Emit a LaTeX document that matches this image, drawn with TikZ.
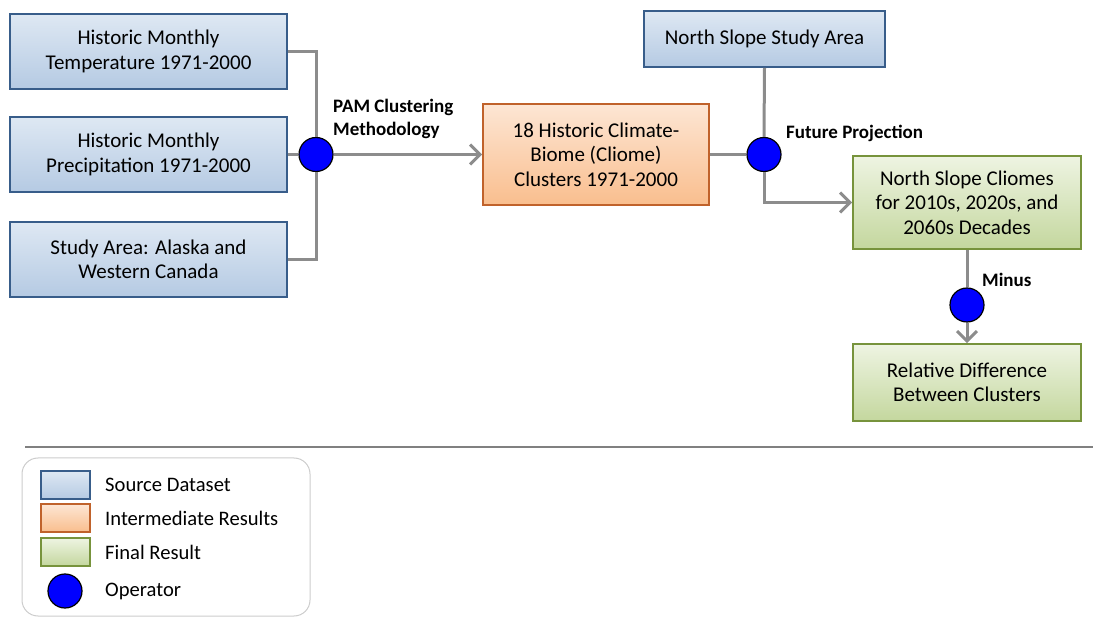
\documentclass[tikz,border=0pt]{standalone}
\usepackage{fontspec}
\setmainfont{Carlito}
\usetikzlibrary{arrows.meta}

\definecolor{srcline}{HTML}{385D8A}
\definecolor{srctop}{HTML}{DEE8F3}
\definecolor{srcbot}{HTML}{B5CAE3}
\definecolor{midline}{HTML}{C0622B}
\definecolor{midtop}{HTML}{FDE6D4}
\definecolor{midbot}{HTML}{F9BE8E}
\definecolor{finline}{HTML}{77933C}
\definecolor{fintop}{HTML}{EEF4E2}
\definecolor{finbot}{HTML}{C4D79E}
\definecolor{conngray}{HTML}{8C8C8C}

\begin{document}
\begin{tikzpicture}[x=1pt,y=-1pt,
  boxtext/.style={align=center,font=\fontsize{21}{24.5}\selectfont,inner sep=0pt},
  srcbox/.style={boxtext,draw=srcline,line width=1.6pt,top color=srctop,bottom color=srcbot},
  midbox/.style={boxtext,draw=midline,line width=1.6pt,top color=midtop,bottom color=midbot},
  finbox/.style={boxtext,draw=finline,line width=1.6pt,top color=fintop,bottom color=finbot},
  operator/.style={circle,draw=black,line width=1.2pt,fill=blue,minimum size=34pt,inner sep=0pt},
  conn/.style={draw=conngray,line width=3pt},
  arr/.style={conn,-{Straight Barb[length=10pt,width=20pt,line width=3pt]}},
  lbl/.style={font=\fontsize{19}{22.7}\selectfont\bfseries,align=left,inner sep=0pt},
  legtext/.style={font=\fontsize{20.6}{24}\selectfont,anchor=west,inner sep=0pt}]
  \useasboundingbox (0,0) rectangle (1093,617);

  \node[srcbox,minimum width=277pt,minimum height=75pt] (hmt) at (148.5, 51.5) {Historic Monthly\\Temperature 1971-2000};
  \node[srcbox,minimum width=277pt,minimum height=75pt] (hmp) at (148.5,154.5) {Historic Monthly\\Precipitation 1971-2000};
  \node[srcbox,minimum width=277pt,minimum height=75pt] (sa)  at (148.5,259.5) {Study Area: Alaska and\\Western Canada};
  \node[midbox,minimum width=226pt,minimum height=101pt] (hcc) at (596,154.5) {18 Historic Climate-\\Biome (Cliome)\\Clusters 1971-2000};
  \node[srcbox,minimum width=241pt,minimum height=56pt] (nssa) at (764.5,39) {North Slope Study Area};
  \node[finbox,minimum width=228pt,minimum height=93pt] (nsc) at (967,202.5) {North Slope Cliomes\\for 2010s, 2020s, and\\2060s Decades};
  \node[finbox,minimum width=228pt,minimum height=77pt] (rdc) at (967,382.5) {Relative Difference\\Between Clusters};

  \node[operator] (pam)  at (316,154.5) {};
  \node[operator] (proj) at (764,154.5) {};
  \node[operator] (minus) at (967,305) {};

  \draw[conn] (hmt.east) -| (pam.north);
  \draw[conn] (sa.east) -| (pam.south);
  \draw[conn] (hmp.east) -- (pam.west);
  \draw[arr] (pam.east) -- (hcc.west);
  \draw[conn] (nssa.south) -- (proj.north);
  \draw[conn] (hcc.east) -- (proj.west);
  \draw[arr] (proj.south) |- (nsc.west);
  \draw[conn] (nsc.south) -- (minus.north);
  \draw[arr] (minus.south) -- (rdc.north);

  \node[lbl,anchor=north west] (pamlbl) at (333,99) {PAM Clustering\\Methodology};
  \node[lbl,anchor=west] (projlbl) at (786,133) {Future Projection};
  \node[lbl,anchor=west] (minuslbl) at (982,280) {Minus};

  \coordinate (sepl) at (25,447);
  \coordinate (sepr) at (1093,447);
  \draw[draw=gray,line width=1.2pt] (sepl) -- (sepr);

  \node[draw=black!20,line width=1pt,rounded corners=16pt,minimum width=288pt,minimum height=158pt] (legend) at (166,537) {};
  \node[srcbox,minimum width=49pt,minimum height=28pt] (legsrc) at (65.5,485) {};
  \node[midbox,minimum width=49pt,minimum height=28pt] (legmid) at (65.5,518) {};
  \node[finbox,minimum width=49pt,minimum height=28pt] (legfin) at (65.5,552) {};
  \node[operator] (legop) at (65,591) {};
  \node[legtext] (legsrctxt) at (105,485) {Source Dataset};
  \node[legtext] (legmidtxt) at (105,518) {Intermediate Results};
  \node[legtext] (legfintxt) at (105,552) {Final Result};
  \node[legtext] (legoptxt) at (105,591) {Operator};
\end{tikzpicture}
\end{document}
